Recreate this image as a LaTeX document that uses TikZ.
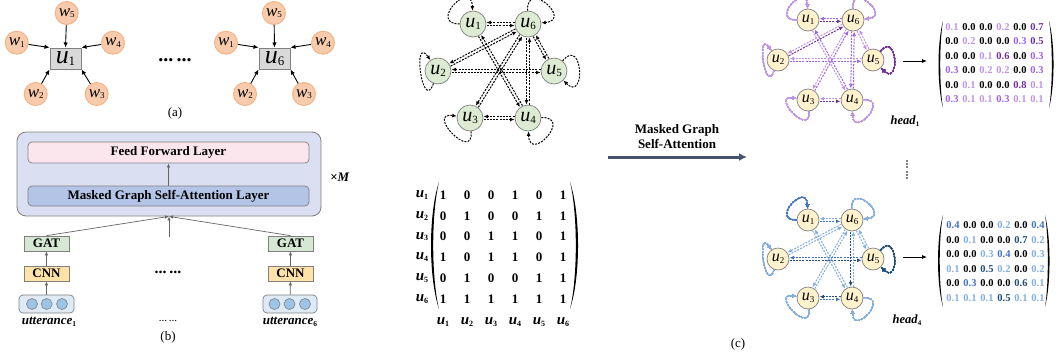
\documentclass[tikz,border=0pt]{standalone}
\usepackage{fontspec}
\setmainfont{Liberation Serif}
\usetikzlibrary{arrows.meta,calc}
\definecolor{worange}{HTML}{F8CBAD}
\definecolor{wborder}{HTML}{F4B183}
\definecolor{boxgray}{HTML}{D9D9D9}
\definecolor{outerfill}{HTML}{DAE0F2}
\definecolor{fffill}{HTML}{FCE6EE}
\definecolor{mgfill}{HTML}{B4C4E6}
\definecolor{gatfill}{HTML}{D5E8D4}
\definecolor{cnnfill}{HTML}{FFE2A8}
\definecolor{uttfill}{HTML}{DEEBF7}
\definecolor{uttdot}{HTML}{9DC3E6}
\definecolor{greennode}{HTML}{DDEBD3}
\definecolor{yellownode}{HTML}{FFF2CC}
\definecolor{arrowblue}{HTML}{44546A}
\definecolor{pL}{HTML}{BF94E4}
\definecolor{pM}{HTML}{9B63F0}
\definecolor{pD}{HTML}{7030A0}
\definecolor{bL}{HTML}{84AEE0}
\definecolor{bM}{HTML}{4472C4}
\definecolor{bD}{HTML}{1F4E79}
\colorlet{pK}{black}
\colorlet{bK}{black}
\newcommand\lab[4]{{\fontsize{#1}{#1}\selectfont\textit{#3}\raisebox{-0.1em}{\fontsize{#2}{#2}\selectfont #4}}}
\newcommand\blab[4]{{\fontsize{#1}{#1}\selectfont\bfseries\textit{#3}\raisebox{-0.12em}{\fontsize{#2}{#2}\selectfont #4}}}
\newcommand\dedge[5]{\draw[dline,draw=#3,shorten <=#5,shorten >=#5] ($(#1)!#4!-90:(#2)$) -- ($(#2)!#4!90:(#1)$);}
\newcommand\mparen[5]{\fill ({#1},{#4}) .. controls ({(#2-0.25*#1)/0.75},{#4+0.25*(#5-#4)}) and ({(#2-0.25*#1)/0.75},{#5-0.25*(#5-#4)}) .. ({#1},{#5}) .. controls ({(#3-0.25*#1)/0.75},{#5-0.25*(#5-#4)}) and ({(#3-0.25*#1)/0.75},{#4+0.25*(#5-#4)}) .. cycle;}
\begin{document}
\begin{tikzpicture}[x=1pt,y=-1pt,
  wnode/.style={circle,fill=worange,draw=wborder,line width=0.9pt,minimum size=23pt,inner sep=0pt},
  ubox/.style={draw=gray,fill=boxgray,line width=1pt,minimum width=31pt,minimum height=21pt,inner sep=0pt},
  aarrow/.style={-{Latex[length=5pt,width=4.5pt]},line width=0.9pt},
  txt/.style={inner sep=0pt},
  layerbox/.style={draw=gray,rounded corners=4pt,line width=0.7pt,minimum width=281pt,inner sep=0pt,font=\fontsize{13}{13}\selectfont\bfseries},
  smallbox/.style={draw=gray,line width=0.7pt,minimum width=45pt,minimum height=15pt,inner sep=0pt,font=\fontsize{13}{13}\selectfont\bfseries},
  garrow/.style={-{Latex[length=4pt,width=3.5pt]},line width=0.7pt,draw=gray!80!black},
  gnode/.style={circle,fill=greennode,draw=gray,line width=0.7pt,minimum size=26pt,inner sep=0pt},
  ynode/.style={circle,fill=yellownode,draw=gray,line width=0.7pt,minimum size=22pt,inner sep=0pt},
  dline/.style={line width=1pt,dash pattern=on 2pt off 1.2pt,-{Latex[length=4.5pt,width=4pt]}},
  mnum/.style={inner sep=0pt,font=\fontsize{13}{13}\selectfont\bfseries},
  hnum/.style={inner sep=0pt,font=\fontsize{10.5}{10.5}\selectfont\bfseries},
  udot/.style={circle,fill=uttdot,draw=gray,line width=0.6pt,minimum size=11pt,inner sep=0pt}
]
\useasboundingbox (0,0) rectangle (1058,360);

% ---------------- (a) ----------------
\node[ubox] (ua) at (65.5,58.5) {\lab{26}{13}{u}{1}};
\node[wnode] (wa5) at (66.7,13) {\lab{17}{9}{w}{5}};
\node[wnode] (wa1) at (16.7,42.7) {\lab{17}{9}{w}{1}};
\node[wnode] (wa4) at (113,42.7) {\lab{17}{9}{w}{4}};
\node[wnode] (wa2) at (35.7,94) {\lab{17}{9}{w}{2}};
\node[wnode] (wa3) at (96.7,94) {\lab{17}{9}{w}{3}};
\draw[aarrow] (wa5) -- (ua.north);
\draw[aarrow] (wa1) -- (ua.north west);
\draw[aarrow] (wa4) -- (ua.north east);
\draw[aarrow] (wa2) -- (ua.south west);
\draw[aarrow] (wa3) -- (ua.south east);

\node[ubox] (ub) at (274.5,58.5) {\lab{26}{13}{u}{6}};
\node[wnode] (wb5) at (274,13) {\lab{17}{9}{w}{5}};
\node[wnode] (wb1) at (226,42.7) {\lab{17}{9}{w}{1}};
\node[wnode] (wb4) at (323,42.7) {\lab{17}{9}{w}{4}};
\node[wnode] (wb2) at (245,94) {\lab{17}{9}{w}{2}};
\node[wnode] (wb3) at (304,94) {\lab{17}{9}{w}{3}};
\draw[aarrow] (wb5) -- (ub.north);
\draw[aarrow] (wb1) -- (ub.north west);
\draw[aarrow] (wb4) -- (ub.north east);
\draw[aarrow] (wb2) -- (ub.south west);
\draw[aarrow] (wb3) -- (ub.south east);

\node[txt,font=\fontsize{20}{20}\selectfont\bfseries] (adots) at (175,60) {...\,...};
\node[txt,font=\fontsize{13}{13}\selectfont] (alab) at (175,113) {(a)};

% ---------------- (b) ----------------
\node[draw=gray,fill=outerfill,rounded corners=9pt,line width=0.8pt,minimum width=304pt,minimum height=84pt,inner sep=0pt] (outer) at (169,174) {};
\node[layerbox,fill=fffill,minimum height=21pt] (ff) at (168.5,152.5) {Feed Forward Layer};
\node[layerbox,fill=mgfill,minimum height=20pt] (mg) at (168.5,196) {Masked Graph Self-Attention Layer};
\draw[garrow] (mg) -- (ff);
\node[txt,font=\fontsize{13}{13}\selectfont\bfseries] (xm) at (340,177) {×\textit{M}};

\node[smallbox,fill=gatfill] (gat1) at (46.5,243.5) {GAT};
\node[smallbox,fill=cnnfill] (cnn1) at (46.5,273.5) {CNN};
\node[draw=gray,fill=uttfill,rounded corners=4pt,line width=0.7pt,minimum width=55pt,minimum height=18pt,inner sep=0pt] (utt1) at (46.5,304) {};
\node[udot] (d11) at (32,304) {};
\node[udot] (d12) at (46.7,304) {};
\node[udot] (d13) at (62,304) {};
\node[txt] (ul1) at (49,322) {\blab{13}{7.5}{utterance}{1}};

\node[smallbox,fill=gatfill] (gat6) at (290.5,243.5) {GAT};
\node[smallbox,fill=cnnfill] (cnn6) at (290.5,273.5) {CNN};
\node[draw=gray,fill=uttfill,rounded corners=4pt,line width=0.7pt,minimum width=54pt,minimum height=18pt,inner sep=0pt] (utt6) at (290,304) {};
\node[udot] (d61) at (274.5,304) {};
\node[udot] (d62) at (289.5,304) {};
\node[udot] (d63) at (305,304) {};
\node[txt] (ul6) at (290,322) {\blab{13}{7.5}{utterance}{6}};

\draw[garrow] (utt1) -- (cnn1);
\draw[garrow] (cnn1) -- (gat1);
\draw[garrow] (utt6) -- (cnn6);
\draw[garrow] (cnn6) -- (gat6);
\coordinate (midb) at (169,237);
\draw[garrow] (gat1.north) -- (outer.south);
\draw[garrow] (gat6.north) -- (outer.south);
\draw[garrow] (midb) -- (outer.south);
\node[txt,font=\fontsize{16}{16}\selectfont\bfseries] (bdots) at (168,272) {...\,...};
\node[txt,font=\fontsize{11}{11}\selectfont] (bdots2) at (168,321) {...\,...};
\node[txt,font=\fontsize{13}{13}\selectfont] (blab) at (168,337) {(b)};

% ---------------- (c) green graph ----------------
\node[gnode] (g1) at (473,24) {\lab{20}{11}{u}{1}};
\node[gnode] (g6) at (528,24) {\lab{20}{11}{u}{6}};
\node[gnode] (g2) at (438,71) {\lab{20}{11}{u}{2}};
\node[gnode] (g5) at (554,71) {\lab{20}{11}{u}{5}};
\node[gnode] (g3) at (470,118) {\lab{20}{11}{u}{3}};
\node[gnode] (g4) at (528,118) {\lab{20}{11}{u}{4}};
\foreach \a/\b in {1/4,1/6,2/5,2/6,3/4,3/6,4/6,5/6}{
  \dedge{g\a}{g\b}{black}{1.5pt}{13.5pt}
  \dedge{g\b}{g\a}{black}{1.5pt}{13.5pt}
}
\foreach \n/\o/\i in {1/180/92,6/92/5,2/250/125,5/50/-45,3/275/172,4/2/-88}
  \draw[dline] (g\n) to[out=\o,in=\i,distance=32pt] (g\n);

% matrix
\foreach \row [count=\i] in {{1,0,0,1,0,1},{0,1,0,0,1,1},{0,0,1,1,0,1},{1,0,1,1,0,1},{0,1,0,0,1,1},{1,1,1,1,1,1}}{
  \foreach \v [count=\j] in \row {
    \node[mnum] (m\i\j) at ({443+24*(\j-1)},{195+20.8*(\i-1)}) {\v};
  }
}
\foreach \i in {1,...,6}{
  \node[txt] (rl\i) at (422,{195+20.8*(\i-1)}) {\blab{15}{8}{u}{\i}};
  \node[txt] (cl\i) at ({443+24*(\i-1)},322) {\blab{15}{8}{u}{\i}};
}
\mparen{439}{431}{433.2}{182}{309}
\mparen{570}{578}{575.8}{182}{309}

% big arrow
\coordinate (bA) at (608,157);
\coordinate (bB) at (747,157);
\draw[arrowblue,line width=3pt,-{Latex[length=8pt,width=8pt]}] (bA) -- (bB);
\node[txt,font=\fontsize{13}{13}\selectfont\bfseries] (mt1) at (677,130) {Masked Graph};
\node[txt,font=\fontsize{13}{13}\selectfont\bfseries] (mt2) at (677,144) {Self-Attention};

% ---------------- head 1 ----------------
\node[ynode] (h1n1) at (808,20) {\lab{16}{9}{u}{1}};
\node[ynode] (h1n6) at (853,20) {\lab{16}{9}{u}{6}};
\node[ynode] (h1n2) at (778,60) {\lab{16}{9}{u}{2}};
\node[ynode] (h1n5) at (873,60) {\lab{16}{9}{u}{5}};
\node[ynode] (h1n3) at (808,100) {\lab{16}{9}{u}{3}};
\node[ynode] (h1n4) at (852,100) {\lab{16}{9}{u}{4}};
\foreach \a/\b/\c in {1/4/L,1/6/D,2/5/M,2/6/D,3/4/D,3/6/M,4/1/M,4/3/L,4/6/M,5/2/L,5/6/L,6/1/M,6/2/L,6/3/L,6/4/M,6/5/L}
  \dedge{h1n\a}{h1n\b}{p\c}{1.3pt}{11.5pt}
\foreach \n/\o/\i/\c in {1/180/92/L,6/92/5/L,2/250/125/L,5/50/-45/D,3/275/172/L,4/2/-88/L}
  \draw[dline,draw=p\c] (h1n\n) to[out=\o,in=\i,distance=27pt] (h1n\n);
\coordinate (h1a) at (903,61);
\coordinate (h1b) at (927,61);
\draw[line width=0.8pt,-{Latex[length=5pt,width=4pt]}] (h1a) -- (h1b);
\foreach \row [count=\i] in {{0.1/L,0.0/K,0.0/K,0.2/L,0.0/K,0.7/D},{0.0/K,0.2/L,0.0/K,0.0/K,0.3/M,0.5/D},{0.0/K,0.0/K,0.1/L,0.6/D,0.0/K,0.3/M},{0.3/M,0.0/K,0.2/L,0.2/L,0.0/K,0.3/M},{0.0/K,0.1/L,0.0/K,0.0/K,0.8/D,0.1/L},{0.3/M,0.1/L,0.1/L,0.3/M,0.1/L,0.1/L}}{
  \foreach \v/\c [count=\j] in \row {
    \node[hnum,text=p\c] (ha\i\j) at ({952+17*(\j-1)},{27+14.4*(\i-1)}) {\v};
  }
}
\mparen{943}{938.5}{940.2}{21}{108}
\mparen{1049}{1053.5}{1051.8}{21}{108}
\node[txt] (hl1) at (905,121) {\blab{12.5}{7}{head}{1}};

% dots between heads
\foreach \y [count=\k] in {161,164,167,172,175,178}
  \fill (907,\y) circle (0.9pt);

% ---------------- head 4 ----------------
\node[ynode] (h4n1) at (808,220) {\lab{16}{9}{u}{1}};
\node[ynode] (h4n6) at (852,220) {\lab{16}{9}{u}{6}};
\node[ynode] (h4n2) at (778,259) {\lab{16}{9}{u}{2}};
\node[ynode] (h4n5) at (873,259) {\lab{16}{9}{u}{5}};
\node[ynode] (h4n3) at (808,298) {\lab{16}{9}{u}{3}};
\node[ynode] (h4n4) at (852,298) {\lab{16}{9}{u}{4}};
\foreach \a/\b/\c in {1/4/L,1/6/M,2/5/D,2/6/L,3/4/M,3/6/L,4/1/L,4/3/D,4/6/L,5/2/M,5/6/L,6/1/L,6/2/L,6/3/L,6/4/D,6/5/L}
  \dedge{h4n\a}{h4n\b}{b\c}{1.3pt}{11.5pt}
\foreach \n/\o/\i/\c in {1/180/92/M,6/92/5/L,2/250/125/L,5/50/-45/D,3/275/172/L,4/2/-88/L}
  \draw[dline,draw=b\c] (h4n\n) to[out=\o,in=\i,distance=27pt] (h4n\n);
\coordinate (h4a) at (903,257);
\coordinate (h4b) at (927,257);
\draw[line width=0.8pt,-{Latex[length=5pt,width=4pt]}] (h4a) -- (h4b);
\foreach \row [count=\i] in {{0.4/M,0.0/K,0.0/K,0.2/L,0.0/K,0.4/M},{0.0/K,0.1/L,0.0/K,0.0/K,0.7/D,0.2/L},{0.0/K,0.0/K,0.3/L,0.4/M,0.0/K,0.3/L},{0.1/L,0.0/K,0.5/D,0.2/L,0.0/K,0.2/L},{0.0/K,0.3/M,0.0/K,0.0/K,0.6/D,0.1/L},{0.1/L,0.1/L,0.1/L,0.5/D,0.1/L,0.1/L}}{
  \foreach \v/\c [count=\j] in \row {
    \node[hnum,text=b\c] (hb\i\j) at ({953+17*(\j-1)},{225+14.6*(\i-1)}) {\v};
  }
}
\mparen{943}{938}{939.7}{215}{307}
\mparen{1045}{1049.5}{1047.8}{215}{307}
\node[txt] (hl4) at (907,320) {\blab{12.5}{7}{head}{4}};

\node[txt,font=\fontsize{13}{13}\selectfont] (clab) at (738,344) {(c)};
\end{tikzpicture}
\end{document}
